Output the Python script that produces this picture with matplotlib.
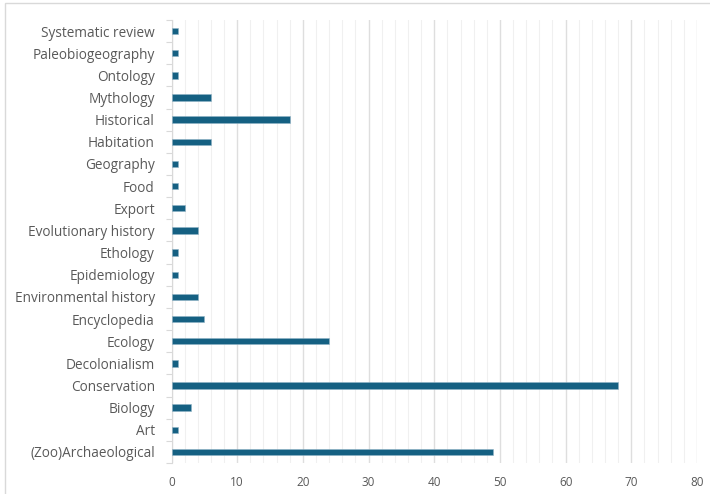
import matplotlib.pyplot as plt
from matplotlib.patches import Rectangle
from matplotlib.ticker import MultipleLocator

# categories listed bottom to top, as they appear on the y axis
categories = ['(Zoo)Archaeological', 'Art', 'Biology', 'Conservation', 'Decolonialism',
              'Ecology', 'Encyclopedia', 'Environmental history', 'Epidemiology', 'Ethology',
              'Evolutionary history', 'Export', 'Food', 'Geography', 'Habitation',
              'Historical', 'Mythology', 'Ontology', 'Paleobiogeography', 'Systematic review']
counts = [49, 1, 3, 68, 1, 24, 5, 4, 1, 1, 4, 2, 1, 1, 6, 18, 6, 1, 1, 1]

plt.rcParams['font.family'] = ['Open Sans', 'DejaVu Sans']
text_col = '#595959'

fig = plt.figure(figsize=(7.1, 4.94), dpi=100)
ax = fig.add_axes([171.5/710, 1 - 463/494, 525.5/710, 443/494])

pos = range(len(categories))
ax.barh(pos, counts, height=0.29, color='#156082', edgecolor='#8fb3c6', linewidth=0.4, zorder=3)

ax.set_xlim(0, 80)
ax.set_ylim(-0.5, len(categories) - 0.5)
ax.xaxis.set_major_locator(MultipleLocator(10))
ax.xaxis.set_minor_locator(MultipleLocator(2))
ax.grid(axis='x', which='major', color='#dedede', linewidth=1.0, zorder=0)
ax.grid(axis='x', which='minor', color='#f0f0f0', linewidth=0.8, zorder=0)

ax.set_yticks(list(pos))
ax.set_yticklabels(categories, fontsize=9.8, color=text_col)
# small tick marks between categories on the y axis
ax.set_yticks([p + 0.5 for p in range(-1, len(categories))], minor=True)
ax.tick_params(axis='y', which='major', length=0, pad=12)
ax.tick_params(axis='y', which='minor', length=4, color='#d9d9d9', width=0.8)
ax.tick_params(axis='x', which='both', length=0, labelsize=8.5, labelcolor=text_col, pad=9)

for s in ['top', 'right', 'bottom']:
    ax.spines[s].set_visible(False)
ax.spines['left'].set_color('#d9d9d9')
ax.spines['left'].set_linewidth(0.8)

# light chart-area border (only top and left show in the crop)
fig.patches.append(Rectangle((5/710, -0.1), 1.2, 1 - 3/494 + 0.1, transform=fig.transFigure,
                             fill=False, edgecolor='#d9d9d9', linewidth=1.0))

fig.savefig('out.png', dpi=100)
